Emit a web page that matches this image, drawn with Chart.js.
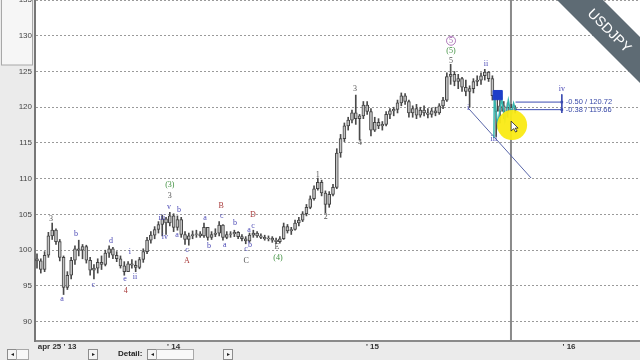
<!DOCTYPE html>
<html>
<head>
<meta charset="utf-8">
<script src="https://cdn.jsdelivr.net/npm/chart.js@4.4.1/dist/chart.umd.min.js"></script>
<style>
  html, body { margin: 0; padding: 0; background: #fff; }
  #wrap { position: relative; width: 640px; height: 360px; overflow: hidden; }
  #bar { position: absolute; left: 0; top: 348px; width: 640px; height: 12px; font-family: "Liberation Sans", Arial, sans-serif; }
  .btn { position: absolute; top: 1px; height: 9px; width: 8px; background: #f4f4f4; border: 1px solid #8c8c8c; font-size: 6px; line-height: 9px; text-align: center; color: #222; }
  .box { position: absolute; top: 1px; height: 9px; background: #f8f8f8; border: 1px solid #a8a8a8; }
  #detail { position: absolute; left: 118px; top: 0; font-size: 8px; font-weight: bold; color: #222; line-height: 12px; }
</style>
</head>
<body>
<div id="wrap">
  <canvas id="c" width="640" height="360"></canvas>
  <div id="bar">
    <div class="btn" style="left:7px">&#9666;</div>
    <div class="box" style="left:16px;width:11px"></div>
    <div class="btn" style="left:88px">&#9656;</div>
    <div id="detail">Detail:</div>
    <div class="btn" style="left:147px">&#9666;</div>
    <div class="box" style="left:156px;width:36px"></div>
    <div class="btn" style="left:223px">&#9656;</div>
  </div>
</div>
<script>
// weekly USDJPY bars, week 0 = apr 25 '13
const highs = [99.5,98.8,99.8,102.5,103.8,103.0,101.5,99.2,97.0,99.0,
  100.6,101.4,100.8,100.7,99.0,98.0,98.8,99.2,100.0,100.6,
  100.4,99.8,99.2,98.4,98.4,98.7,98.5,99.0,100.2,101.8,
  102.6,103.3,104.0,104.9,104.6,105.3,105.1,104.8,104.6,102.6,
  102.4,102.7,102.8,102.6,103.8,103.2,102.6,103.0,104.0,103.6,
  102.6,102.6,102.8,102.6,102.2,101.9,102.4,102.8,102.6,102.3,
  102.1,102.0,101.9,101.7,101.9,103.8,103.6,103.2,104.2,104.6,
  105.4,106.4,107.6,109.0,110.1,109.8,108.3,108.2,109.2,114.2,
  116.2,117.8,118.6,119.6,121.7,119.0,120.8,120.8,119.8,118.6,
  118.4,118.0,119.4,119.8,120.0,121.0,122.0,121.9,121.0,120.2,
  120.4,120.0,120.2,119.8,119.9,120.0,120.5,121.4,124.8,126.0,
  125.0,124.6,124.2,123.8,123.0,124.0,124.4,124.8,125.3,125.0,
  124.4,121.8,121.0,120.8,120.6,120.4,120.2];
const lows = [97.5,96.8,97.0,99.0,101.5,100.8,98.5,93.8,94.5,96.0,
  98.0,99.2,98.8,98.2,96.5,96.0,96.8,97.3,97.8,99.0,
  98.8,98.4,97.5,96.5,97.0,97.5,97.0,97.4,98.3,99.5,
  101.0,101.6,102.4,102.0,102.2,103.4,102.6,102.8,101.8,100.8,
  100.7,101.6,101.8,101.8,101.8,101.4,101.5,101.9,102.0,101.4,
  101.6,101.8,101.9,101.6,101.3,100.9,101.1,101.8,101.8,101.6,
  101.4,101.3,101.1,100.9,101.0,101.5,102.4,102.2,102.8,103.4,
  104.0,104.8,105.8,107.0,108.4,107.6,105.2,106.0,107.6,108.6,
  113.0,115.2,116.8,117.8,117.6,115.4,118.4,119.0,116.0,116.6,
  117.0,116.8,117.4,118.4,118.8,119.2,120.2,120.4,118.6,118.6,
  118.4,118.6,118.8,118.5,118.6,118.8,119.0,119.8,120.8,123.2,
  123.0,122.6,122.2,121.6,120.0,122.0,123.0,123.2,123.8,123.6,
  121.0,115.9,117.8,118.4,118.6,119.0,119.2];
const closes = [98.5,97.3,99.3,102.0,102.8,101.2,99.0,94.8,96.5,98.6,
  100.2,100.0,100.5,98.6,97.2,97.5,98.3,98.0,99.6,100.2,
  99.3,98.8,97.8,97.0,98.1,97.9,97.6,98.7,99.8,101.4,
  102.1,102.9,103.6,104.4,103.8,104.8,103.2,104.3,102.2,101.5,
  102.0,102.2,102.3,102.0,103.2,101.8,102.2,102.4,103.5,101.8,
  102.2,102.3,102.5,101.9,101.6,101.3,102.1,102.4,102.0,101.8,
  101.6,101.7,101.4,101.2,101.6,103.3,102.7,102.9,103.8,104.2,
  105.1,106.0,107.2,108.6,109.5,108.0,106.4,107.8,108.8,113.6,
  115.6,117.4,118.2,119.2,118.4,118.8,120.3,119.4,116.8,117.9,
  117.4,117.6,119.0,119.5,119.7,120.6,121.6,120.8,119.2,119.8,
  118.9,119.6,119.2,119.0,119.5,119.2,120.2,121.0,124.3,124.6,
  123.6,124.0,122.8,122.2,122.6,123.6,123.8,124.4,124.9,124.0,
  121.6,119.4,120.2,119.4,120.0,119.6,119.8];
const firstOpen = 98.8;

// x axis ticks (in weeks)
const xTickPos = [5.3, 36.0, 88.4, 140.2];
const xTickText = ["apr 25 ' 13", "' 14", "' 15", "' 16"];

// forecast / drawing tools
const ivPath = [[120.4,115.7],[120.5,121.5],[121.4,117.5],[122.45,121.25],[123.3,118.2],[124.2,121.0],[124.9,118.9],[125.6,120.55],[126.1,119.6]];
const channelLine = [[113.6,119.9],[130.2,110.1]];
const targetLevels = [120.72, 119.66];
const targetText = ["-0.50 / 120.72", "-0.38 / 119.66"];
const targetSpan = [126.1, 138.3];
const todayWeek = 124.9;
const markerBox = [121.4, 121.7];
const highlight = [125.2, 117.5];

// wave labels: week, price, text, colour
const waveLabels = [
  [3.7,104.4,'3','dark'],[10.3,102.3,'b','blue'],[6.6,93.2,'a','blue'],[14.8,95.1,'c','blue'],
  [19.5,101.3,'d','blue'],[23.2,96.0,'e','blue'],[23.4,94.3,'4','red'],[24.5,99.8,'i','blue'],
  [25.8,96.3,'ii','blue'],[35.0,109.1,'(3)','green'],[35.0,107.6,'3','dark'],[34.8,106.0,'v','blue'],
  [32.9,104.5,'iii','blue'],[33.7,101.9,'iv','blue'],[37.4,105.6,'b','blue'],[36.9,102.1,'a','blue'],
  [39.5,100.0,'c','blue'],[39.5,98.5,'A','red'],[44.3,104.5,'a','blue'],[45.3,100.6,'b','blue'],
  [48.5,106.2,'B','red'],[48.7,104.8,'c','blue'],[49.5,100.7,'a','blue'],[52.2,103.8,'b','blue'],
  [55.9,102.8,'a','blue'],[56.9,103.4,'c','blue'],[56.9,104.9,'D','red'],[55.1,100.2,'c','blue'],
  [56.1,100.7,'b','blue'],[55.1,98.5,'C','dark'],[63.2,100.4,'E','dark'],[63.5,98.9,'(4)','green'],
  [74.0,110.5,'1','dark'],[76.1,104.6,'2','dark'],[83.8,122.5,'3','dark'],[85.1,115.0,'4','dark'],
  [109.1,129.3,'5','ring'],[109.1,127.9,'(5)','green'],[109.1,126.5,'5','dark'],
  [113.6,119.9,'i','blue'],[118.3,126.0,'ii','blue'],[120.4,115.6,'iii','blue'],[138.3,122.5,'iv','blue']
];
const labelColors = { dark: '#555', blue: '#4a48b5', red: '#a83a3a', green: '#3d8f3d', ring: '#9a5aa8' };

const wickData = highs.map((h, i) => ({ x: i, y: [lows[i], h] }));
const bodyData = closes.map((c, i) => ({ x: i, y: [i ? closes[i - 1] : firstOpen, c] }));
const pts = arr => arr.map(p => ({ x: p[0], y: p[1] }));

const overlay = {
  id: 'overlay',
  beforeDraw(chart) {
    const { ctx, chartArea: a } = chart;
    ctx.save();
    ctx.fillStyle = '#ebebeb';
    ctx.fillRect(0, 0, a.left, a.bottom);
    ctx.fillRect(0, a.bottom, chart.width, chart.height - a.bottom);
    ctx.fillStyle = '#f6f6f6';
    ctx.strokeStyle = '#a8a8a8';
    ctx.fillRect(1, 0, a.left - 3, 65);
    ctx.strokeRect(1.5, -1, a.left - 4, 66);
    ctx.restore();
  },
  afterDatasetsDraw(chart) {
    const { ctx, scales: { x, y } } = chart;
    ctx.save();
    ctx.textAlign = 'center';
    ctx.textBaseline = 'middle';
    ctx.font = '8px "Liberation Serif", serif';
    waveLabels.forEach(l => {
      const px = x.getPixelForValue(l[0]), py = y.getPixelForValue(l[1]);
      ctx.fillStyle = labelColors[l[3]];
      ctx.fillText(l[2], px, py);
      if (l[3] === 'ring') {
        ctx.strokeStyle = labelColors.ring;
        ctx.lineWidth = 0.8;
        ctx.beginPath();
        ctx.arc(px, py, 4.5, 0, Math.PI * 2);
        ctx.stroke();
      }
    });
    ctx.textAlign = 'left';
    ctx.font = '7.5px "Liberation Sans", sans-serif';
    ctx.fillStyle = '#3a4aa8';
    targetLevels.forEach((v, i) => {
      ctx.fillText(targetText[i], x.getPixelForValue(targetSpan[1]) + 4, y.getPixelForValue(v));
    });
    ctx.restore();
  },
  afterDraw(chart) {
    const { ctx } = chart;
    // cursor inside the highlight
    const hp = chart.getDatasetMeta(chart.data.datasets.length - 1).data[0];
    ctx.save();
    ctx.translate(hp.x - 1, hp.y - 4);
    ctx.beginPath();
    ctx.moveTo(0, 0); ctx.lineTo(0, 10); ctx.lineTo(2.5, 7.5); ctx.lineTo(4.5, 11);
    ctx.lineTo(6, 10); ctx.lineTo(4, 7); ctx.lineTo(7, 7); ctx.closePath();
    ctx.fillStyle = '#fff'; ctx.fill();
    ctx.strokeStyle = '#222'; ctx.lineWidth = 0.8; ctx.stroke();
    ctx.restore();
    // corner banner
    ctx.save();
    ctx.fillStyle = '#5e6b74';
    ctx.beginPath();
    ctx.moveTo(557, 0); ctx.lineTo(603, 0); ctx.lineTo(640, 37); ctx.lineTo(640, 83);
    ctx.closePath(); ctx.fill();
    ctx.translate(609, 31);
    ctx.rotate(Math.PI / 4);
    ctx.fillStyle = '#fff';
    ctx.font = '14px "Liberation Sans", Arial, sans-serif';
    ctx.textAlign = 'center';
    ctx.textBaseline = 'middle';
    ctx.fillText('USDJPY', 0, 0);
    ctx.restore();
  }
};

new Chart(document.getElementById('c'), {
  type: 'bar',
  data: {
    datasets: [
      { type: 'line', data: [{ x: todayWeek, y: 87.3 }, { x: todayWeek, y: 135 }], borderColor: '#8a8a8a', borderWidth: 2, pointRadius: 0, order: 10 },
      { type: 'bar', data: wickData, backgroundColor: '#4a4a4a', barThickness: 1, grouped: false, order: 9 },
      { type: 'bar', data: bodyData, backgroundColor: '#c4c4c4', borderColor: '#444', borderWidth: 1, borderSkipped: false, barThickness: 3, grouped: false, order: 8 },
      { type: 'line', data: pts(channelLine), borderColor: '#5865a8', borderWidth: 1, pointRadius: 0, order: 6 },
      { type: 'line', data: pts(ivPath), borderColor: '#35b5ad', borderWidth: 1.5, pointRadius: 0, tension: 0, order: 5 },
      { type: 'line', data: [{ x: targetSpan[0], y: targetLevels[0] }, { x: targetSpan[1], y: targetLevels[0] }], borderColor: '#3b4bb0', borderWidth: 1, pointRadius: 0, order: 4 },
      { type: 'line', data: [{ x: targetSpan[0], y: targetLevels[1] }, { x: targetSpan[1], y: targetLevels[1] }], borderColor: '#3b4bb0', borderWidth: 1, pointRadius: 0, order: 4 },
      { type: 'line', data: [{ x: targetSpan[1], y: 121.8 }, { x: targetSpan[1], y: targetLevels[0] }, { x: targetSpan[1], y: targetLevels[1] }, { x: targetSpan[1], y: 119.2 }],
        borderColor: '#3b4bb0', borderWidth: 1, pointRadius: [0, 1.8, 1.8, 0], pointStyle: 'rect', pointBackgroundColor: '#3b4bb0', pointBorderWidth: 0, order: 4 },
      { type: 'line', data: [{ x: markerBox[0], y: markerBox[1] }], showLine: false, pointStyle: 'rect', pointRadius: 6.5, pointBackgroundColor: '#1d3ec9', pointBorderColor: '#1d3ec9', order: 3 },
      { type: 'line', data: [{ x: highlight[0], y: highlight[1] }], showLine: false, pointRadius: 15, pointBackgroundColor: 'rgba(250,234,20,0.95)', pointBorderWidth: 0, order: 1 }
    ]
  },
  options: {
    responsive: false,
    animation: false,
    devicePixelRatio: 1,
    layout: { padding: 0, autoPadding: false },
    plugins: { legend: { display: false }, tooltip: { enabled: false } },
    scales: {
      x: {
        type: 'linear', min: -0.53, max: 158.9, offset: false,
        grid: { display: false, drawTicks: false, offset: false },
        border: { color: '#8a8a8a', width: 2 },
        afterBuildTicks: s => { s.ticks = xTickPos.map(v => ({ value: v })); },
        afterFit: s => { s.height = 19; s.paddingLeft = 0; s.paddingRight = 0; },
        ticks: {
          autoSkip: false, maxRotation: 0, padding: 1, color: '#333',
          font: { family: 'Liberation Sans', size: 8, weight: 'bold' },
          callback: (v, i) => xTickText[i]
        }
      },
      y: {
        min: 87.3, max: 135,
        grid: { color: '#9a9a9a', drawTicks: false },
        border: { color: '#777', width: 2, dash: [2, 2] },
        afterFit: s => { s.width = 35; s.paddingTop = 0; s.paddingBottom = 0; },
        ticks: { stepSize: 5, includeBounds: false, padding: 3, color: '#444', font: { family: 'Liberation Sans', size: 8 } }
      }
    }
  },
  plugins: [overlay]
});
</script>
</body>
</html>
